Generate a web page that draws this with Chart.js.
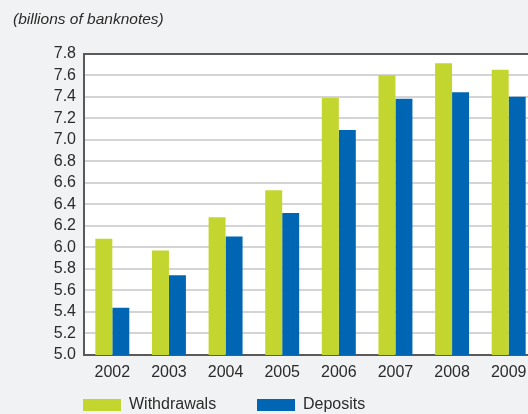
<!DOCTYPE html>
<html>
<head>
<meta charset="utf-8">
<script src="https://cdn.jsdelivr.net/npm/chart.js@4/dist/chart.umd.min.js"></script>
<style>
  html, body { margin: 0; padding: 0; background: #f1f2f4; overflow: hidden; }
  #wrap { position: absolute; left: 0; top: 0; width: 537px; height: 414px; }
</style>
</head>
<body>
<div id="wrap"><canvas id="c" width="537" height="414"></canvas></div>
<script>
const categories = ['2002', '2003', '2004', '2005', '2006', '2007', '2008', '2009'];
const withdrawals = [6.08, 5.97, 6.28, 6.53, 7.39, 7.60, 7.71, 7.65];
const deposits = [5.44, 5.74, 6.10, 6.32, 7.09, 7.38, 7.44, 7.40];
const seriesNames = ['Withdrawals', 'Deposits'];
const yMin = 5.0, yMax = 7.8, yStep = 0.2;
const unitLabel = '(billions of banknotes)';

const GREEN = '#c2d62f';
const BLUE = '#0066b3';
const TEXT = '#2b2b2b';
const FONT = "'Liberation Sans', Arial, sans-serif";

const bgPlugin = {
  id: 'bg',
  beforeDraw(chart) {
    const { ctx, chartArea: a } = chart;
    ctx.save();
    ctx.fillStyle = '#f1f2f4';
    ctx.fillRect(0, 0, chart.width, chart.height);
    ctx.fillStyle = '#ffffff';
    ctx.fillRect(a.left, a.top, a.right - a.left, a.bottom - a.top);
    ctx.restore();
  }
};

const legendPlugin = {
  id: 'customLegend',
  afterDraw(chart) {
    const { ctx } = chart;
    const xs = [83, 257];
    ctx.save();
    ctx.font = '16px ' + FONT;
    ctx.textBaseline = 'middle';
    ctx.textAlign = 'left';
    chart.data.datasets.forEach((ds, i) => {
      ctx.fillStyle = ds.backgroundColor;
      ctx.fillRect(xs[i], 399, 38, 12);
      ctx.fillStyle = TEXT;
      ctx.fillText(ds.label, xs[i] + 46, 405);
    });
    ctx.restore();
  }
};

new Chart(document.getElementById('c'), {
  type: 'bar',
  data: {
    labels: categories,
    datasets: [
      { label: seriesNames[0], data: withdrawals, backgroundColor: GREEN, borderWidth: 0 },
      { label: seriesNames[1], data: deposits, backgroundColor: BLUE, borderWidth: 0 }
    ]
  },
  options: {
    responsive: false,
    devicePixelRatio: 1,
    animation: false,
    layout: { padding: { left: 13, top: 0, right: 0, bottom: 30 } },
    datasets: { bar: { categoryPercentage: 0.6, barPercentage: 1.0 } },
    plugins: {
      legend: { display: false },
      tooltip: { enabled: false },
      title: {
        display: true,
        text: unitLabel,
        align: 'start',
        color: TEXT,
        font: { family: FONT, size: 15.5, style: 'italic', weight: 'normal' },
        padding: { top: 10, bottom: 25 }
      }
    },
    scales: {
      x: {
        grid: { display: false, drawTicks: false },
        border: { display: true, color: '#5a5a5a', width: 2 },
        ticks: { color: TEXT, font: { family: FONT, size: 16 }, padding: 8, maxRotation: 0, autoSkip: false },
        afterFit(s) { s.height = 29; }
      },
      y: {
        min: yMin,
        max: yMax,
        grid: {
          drawTicks: false,
          lineWidth: 2,
          color: (c) => {
            const v = c.tick ? c.tick.value : 0;
            if (Math.abs(v - yMax) < 1e-6 || Math.abs(v - yMin) < 1e-6) return '#5a5a5a';
            return '#d4d4d4';
          }
        },
        border: { display: true, color: '#5a5a5a', width: 2 },
        ticks: {
          stepSize: yStep,
          autoSkip: false,
          color: TEXT,
          font: { family: FONT, size: 16 },
          padding: 8,
          callback: (v) => Number(v).toFixed(1)
        },
        afterFit(s) { s.width = 71; }
      }
    }
  },
  plugins: [bgPlugin, legendPlugin]
});
</script>
</body>
</html>
